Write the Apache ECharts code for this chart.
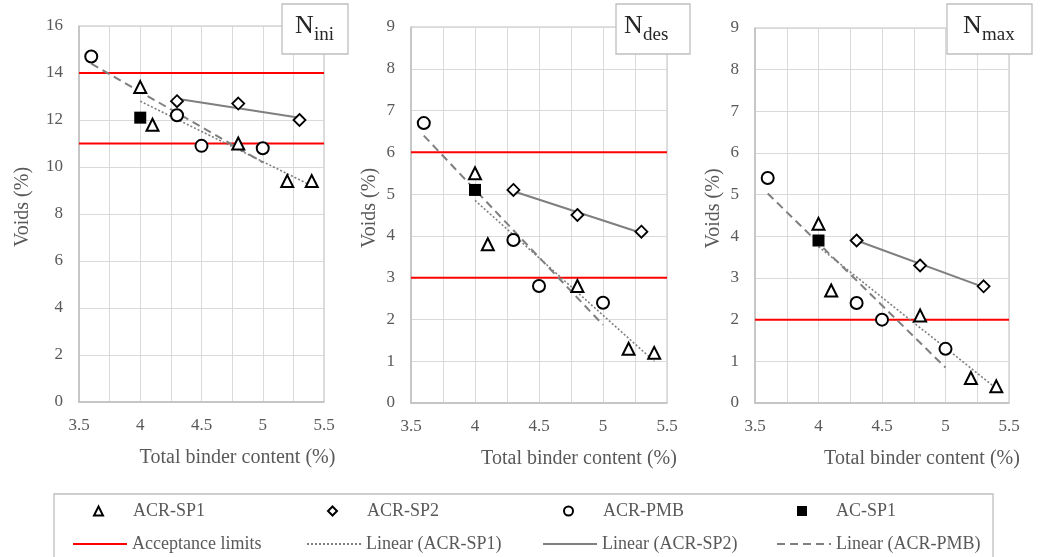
<!DOCTYPE html>
<html><head><meta charset="utf-8">
<script src="https://cdn.jsdelivr.net/npm/echarts@6/dist/echarts.min.js"></script>
<style>html,body{margin:0;padding:0;background:#fff}#c{width:1040px;height:557px}</style>
</head><body><div id="c"></div>
<script>
// ---- data ----
const panelSubs = ['ini', 'des', 'max'];
const xTickLabels = ['3.5', '4', '4.5', '5', '5.5'];

const sp1X = [4.0, 4.1, 4.8, 5.2, 5.4];
const sp2X = [4.3, 4.8, 5.3];
const pmbX = [3.6, 4.3, 4.5, 5.0];
const acX = [4.0];

const sp1Ini = [13.4, 11.8, 11.0, 9.4, 9.4];
const sp2Ini = [12.8, 12.7, 12.0];
const pmbIni = [14.7, 12.2, 10.9, 10.8];
const acIni = [12.1];

const sp1Des = [5.5, 3.8, 2.8, 1.3, 1.2];
const sp2Des = [5.1, 4.5, 4.1];
const pmbDes = [6.7, 3.9, 2.8, 2.4];
const acDes = [5.1];

const sp1Max = [4.3, 2.7, 2.1, 0.6, 0.4];
const sp2Max = [3.9, 3.3, 2.8];
const pmbMax = [5.4, 2.4, 2.0, 1.3];
const acMax = [3.9];

// linear trend line end points
const trendSp1X = [4.0, 5.4];
const trendSp2X = [4.3, 5.3];
const trendPmbX = [3.6, 5.0];
const trendSp1Ini = [12.8, 9.2];
const trendSp2Ini = [12.9, 12.1];
const trendPmbIni = [14.4, 10.2];
const trendSp1Des = [4.85, 1.0];
const trendSp2Des = [5.07, 4.07];
const trendPmbDes = [6.4, 1.87];
const trendSp1Max = [3.75, 0.35];
const trendSp2Max = [3.9, 2.78];
const trendPmbMax = [5.03, 0.85];

const limitsIni = [14, 11];
const limitsDes = [6, 3];
const limitsMax = [2];

const yMaxes = [16, 9, 9];
const yIntervals = [2, 1, 1];

// ---- build ----
const FONT = 'Liberation Serif';
const GRAY = '#595959';
const zip = (xs, ys) => xs.map((x, i) => [x, ys[i]]);

const panels = [
  {sp1: sp1Ini, sp2: sp2Ini, pmb: pmbIni, ac: acIni, t1: trendSp1Ini, t2: trendSp2Ini, tp: trendPmbIni, lim: limitsIni},
  {sp1: sp1Des, sp2: sp2Des, pmb: pmbDes, ac: acDes, t1: trendSp1Des, t2: trendSp2Des, tp: trendPmbDes, lim: limitsDes},
  {sp1: sp1Max, sp2: sp2Max, pmb: pmbMax, ac: acMax, t1: trendSp1Max, t2: trendSp2Max, tp: trendPmbMax, lim: limitsMax}
];

const gridPos = [
  {left: 79, top: 26, width: 245, height: 376},
  {left: 411, top: 27, width: 256, height: 376},
  {left: 755, top: 28, width: 254, height: 375}
];
const xNamePad = [72, 80, 80];
const yNameGap = [46, 31, 31];

const grids = gridPos.map(g => Object.assign({show: true, borderColor: '#bfbfbf', borderWidth: 1, backgroundColor: 'transparent'}, g));

const xAxes = gridPos.map((g, i) => ({
  type: 'value', gridIndex: i, min: 3.5, max: 5.5, interval: 0.5,
  axisLine: {show: true, lineStyle: {color: '#bfbfbf', width: 1.5}},
  axisTick: {show: false},
  axisLabel: {color: GRAY, fontFamily: FONT, fontSize: 17, margin: 15,
    formatter: v => { const s = xTickLabels.find(t => Math.abs(parseFloat(t) - v) < 1e-6); return s || ''; }},
  splitLine: {show: true, lineStyle: {color: '#d9d9d9', width: 1}},
  minorTick: {show: false, splitNumber: 2},
  minorSplitLine: {show: true, lineStyle: {color: '#d9d9d9', width: 1}},
  name: 'Total binder content (%)', nameLocation: 'middle', nameGap: 46,
  nameTextStyle: {color: GRAY, fontFamily: FONT, fontSize: 20, padding: [0, 0, 0, xNamePad[i]]}
}));

const yAxes = gridPos.map((g, i) => ({
  type: 'value', gridIndex: i, min: 0, max: yMaxes[i], interval: yIntervals[i],
  axisLine: {show: true, lineStyle: {color: '#bfbfbf', width: 1.5}},
  axisTick: {show: false},
  axisLabel: {color: GRAY, fontFamily: FONT, fontSize: 17, margin: 16},
  splitLine: {show: true, lineStyle: {color: '#d9d9d9', width: 1}},
  name: 'Voids (%)', nameLocation: 'middle', nameGap: yNameGap[i], nameRotate: 90,
  nameTextStyle: {color: GRAY, fontFamily: FONT, fontSize: 20, padding: [0, 0, 0, 14]}
}));

const series = [];
panels.forEach((p, i) => {
  p.lim.forEach(v => {
    series.push({name: 'Acceptance limits', type: 'line', xAxisIndex: i, yAxisIndex: i,
      data: [[3.5, v], [5.5, v]], symbol: 'none', silent: true, z: 3,
      lineStyle: {color: '#ff0000', width: 2}, itemStyle: {color: '#ff0000'}});
  });
  series.push({name: 'Linear (ACR-SP1)', type: 'line', xAxisIndex: i, yAxisIndex: i,
    data: zip(trendSp1X, p.t1), symbol: 'none', z: 4,
    lineStyle: {color: '#7f7f7f', width: 1.6, type: [2, 2]}, itemStyle: {color: '#7f7f7f'}});
  series.push({name: 'Linear (ACR-SP2)', type: 'line', xAxisIndex: i, yAxisIndex: i,
    data: zip(trendSp2X, p.t2), symbol: 'none', z: 4,
    lineStyle: {color: '#7f7f7f', width: 2}, itemStyle: {color: '#7f7f7f'}});
  series.push({name: 'Linear (ACR-PMB)', type: 'line', xAxisIndex: i, yAxisIndex: i,
    data: zip(trendPmbX, p.tp), symbol: 'none', z: 4,
    lineStyle: {color: '#7f7f7f', width: 2, type: [8, 5]}, itemStyle: {color: '#7f7f7f'}});
  series.push({name: 'ACR-SP1', type: 'scatter', xAxisIndex: i, yAxisIndex: i,
    data: zip(sp1X, p.sp1), symbol: 'triangle', symbolSize: 12, z: 6,
    itemStyle: {color: '#fff', borderColor: '#000', borderWidth: 2, opacity: 1}});
  series.push({name: 'ACR-SP2', type: 'scatter', xAxisIndex: i, yAxisIndex: i,
    data: zip(sp2X, p.sp2), symbol: 'diamond', symbolSize: 12, z: 6,
    itemStyle: {color: '#fff', borderColor: '#000', borderWidth: 1.8, opacity: 1}});
  series.push({name: 'ACR-PMB', type: 'scatter', xAxisIndex: i, yAxisIndex: i,
    data: zip(pmbX, p.pmb), symbol: 'circle', symbolSize: 12, z: 6,
    itemStyle: {color: '#fff', borderColor: '#000', borderWidth: 2, opacity: 1}});
  series.push({name: 'AC-SP1', type: 'scatter', xAxisIndex: i, yAxisIndex: i,
    data: zip(acX, p.ac), symbol: 'rect', symbolSize: 12, z: 6,
    itemStyle: {color: '#000', borderColor: '#000', borderWidth: 0, opacity: 1}});
});

const legendItems = [
  {name: 'ACR-SP1', left: 93, top: 502, w: 9, h: 9, pad: 25, marker: true},
  {name: 'ACR-SP2', left: 327, top: 502, w: 9, h: 9, pad: 25, marker: true},
  {name: 'ACR-PMB', left: 563, top: 502, w: 9, h: 9, pad: 25, marker: true},
  {name: 'AC-SP1', left: 797, top: 502, w: 10, h: 10, pad: 24, marker: true},
  {name: 'Acceptance limits', left: 72, top: 535, w: 54, h: 8, pad: 0},
  {name: 'Linear (ACR-SP1)', left: 306, top: 535, w: 54, h: 8, pad: 0},
  {name: 'Linear (ACR-SP2)', left: 542, top: 535, w: 54, h: 8, pad: 0},
  {name: 'Linear (ACR-PMB)', left: 776, top: 535, w: 54, h: 8, pad: 0}
];
const legends = legendItems.map(it => {
  const l = {
    data: [it.name], left: it.left, top: it.top, itemWidth: it.w, itemHeight: it.h,
    padding: 0, itemGap: 0, selectedMode: false,
    textStyle: {color: GRAY, fontFamily: FONT, fontSize: 18, padding: [0, 0, 0, it.pad]}
  };
  if (!it.marker) l.itemStyle = {color: 'transparent', borderWidth: 0, opacity: 0};
  return l;
});

const labelBoxes = [
  {x: 282, w: 66, nx: 295},
  {x: 616, w: 74, nx: 624},
  {x: 947, w: 85, nx: 963}
];
const graphics = [];
labelBoxes.forEach((b, i) => {
  graphics.push({type: 'rect', shape: {x: b.x, y: 4, width: b.w, height: 50}, z: 100,
    style: {fill: '#fff', stroke: '#bfbfbf', lineWidth: 1.3}});
  graphics.push({type: 'text', z: 101, x: b.nx, y: 26.5,
    style: {text: 'N', align: 'left', verticalAlign: 'middle', fill: '#262626',
      fontFamily: FONT, fontSize: 26}});
  graphics.push({type: 'text', z: 101, x: b.nx + 19, y: 35,
    style: {text: panelSubs[i], align: 'left', verticalAlign: 'middle', fill: '#262626',
      fontFamily: FONT, fontSize: 19}});
});
graphics.push({type: 'rect', shape: {x: 54, y: 494, width: 939, height: 80}, z: 0,
  style: {fill: 'none', stroke: '#bfbfbf', lineWidth: 1.3}});

const chart = echarts.init(document.getElementById('c'), null, {renderer: 'canvas'});
chart.setOption({
  animation: false,
  backgroundColor: '#fff',
  textStyle: {fontFamily: FONT},
  grid: grids,
  xAxis: xAxes,
  yAxis: yAxes,
  legend: legends,
  series: series,
  graphic: graphics
});
</script></body></html>
